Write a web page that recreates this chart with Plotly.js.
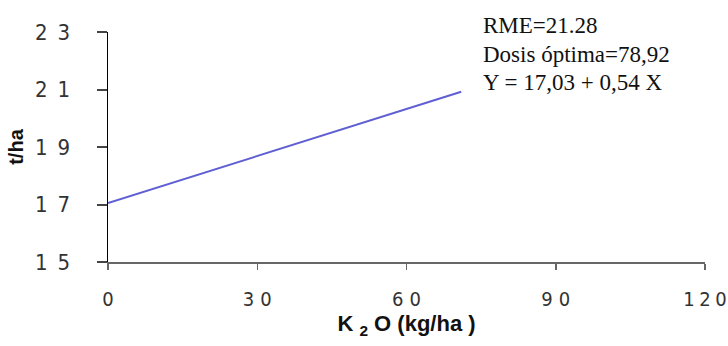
<!DOCTYPE html>
<html>
<head>
<meta charset="utf-8">
<script src="https://cdn.plot.ly/plotly-3.0.1.min.js"></script>
<style>html,body{margin:0;padding:0;background:#fff;}#chart{width:728px;height:346px;}</style>
</head>
<body>
<div id="chart"></div>
<script>
// Data
const doseK2O = [0, 71];
const yieldTHa = [17.05, 20.92];
const xTickVals = [0, 30, 60, 90, 120];
const xTickText = ["0", "3\u20040", "6\u20040", "9\u20040", "1\u20052\u20050"];
const yTickVals = [15, 17, 19, 21, 23];
const yTickText = ["1\u20025", "1\u20027", "1\u20029", "2\u20021", "2\u20023"];
const annotationLines = ["RME=21.28", "Dosis óptima=78,92", "Y = 17,03 + 0,54 X"];

const fam = "DejaVu Sans Condensed, Liberation Sans Narrow, Arial Narrow, sans-serif";
const W = 728, H = 346, L = 108, R = 23, T = 32, B = 84;
const pw = W - L - R, ph = H - T - B;
function px(x){ return (x - L) / pw; }
function py(y){ return (H - B - y) / ph; }

const trace = {
  x: doseK2O, y: yieldTHa, type: "scatter", mode: "lines",
  line: {color: "#5f5fd3", width: 2}, hoverinfo: "skip", showlegend: false
};

const annY = [26, 54, 82];
const annotations = annotationLines.map((t, i) => ({
  xref: "paper", yref: "paper", x: px(481), y: py(annY[i]),
  xanchor: "left", yanchor: "middle", align: "left", showarrow: false,
  text: t,
  font: {family: "Liberation Serif, Times New Roman, serif", size: 23, color: "#111"}
}));

const layout = {
  width: W, height: H,
  margin: {l: L, r: R, t: T, b: B, pad: 0},
  paper_bgcolor: "#fff", plot_bgcolor: "#fff",
  xaxis: {
    range: [0, 120], tickvals: xTickVals, ticktext: xTickText,
    showgrid: false, zeroline: false, showline: true, linecolor: "#666", linewidth: 2,
    ticks: "outside", ticklen: 6, tickcolor: "#666", tickwidth: 1.5,
    tickfont: {family: fam, size: 20, color: "#333"}, ticklabelstandoff: 12, ticklabeloverflow: "allow",
    title: {text: "K <sub>2</sub> O (kg/ha )", font: {family: "Liberation Sans, Arial, sans-serif", size: 22, color: "#111", weight: "bold"}, standoff: 6}
  },
  yaxis: {
    range: [15, 23], tickvals: yTickVals, ticktext: yTickText,
    showgrid: false, zeroline: false, showline: true, linecolor: "#000", linewidth: 1.5,
    ticks: "outside", ticklen: 10, tickcolor: "#444", tickwidth: 2,
    tickfont: {family: fam, size: 22, color: "#333"}, ticklabelstandoff: 22, ticklabeloverflow: "allow",
    title: {text: "t/ha", font: {family: "Liberation Sans, Arial, sans-serif", size: 20, color: "#111", weight: "bold"}, standoff: 6}
  },
  annotations: annotations
};

Plotly.newPlot("chart", [trace], layout, {staticPlot: true, displayModeBar: false});
</script>
</body>
</html>
